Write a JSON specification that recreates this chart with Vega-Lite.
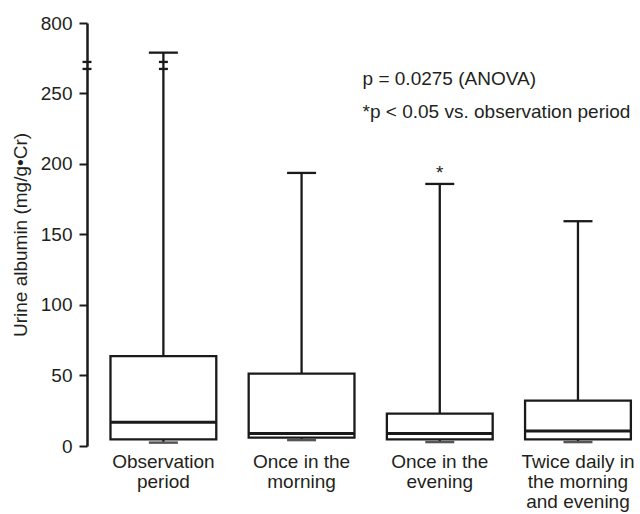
{
  "$schema": "https://vega.github.io/schema/vega-lite/v6.json",
  "autosize": "none",
  "width": 553,
  "height": 423,
  "padding": {"left": 87, "top": 23, "right": 0, "bottom": 68},
  "background": "white",
  "config": {
    "view": {"stroke": null},
    "font": "Liberation Sans",
    "text": {"font": "Liberation Sans"}
  },
  "datasets": {
    "boxes": [
      {"group": "Observation period", "min": 2.4, "q1": 4.7, "median": 16.8, "q3": 63.7, "max": 567, "sig": ""},
      {"group": "Once in the morning", "min": 4.2, "q1": 5.9, "median": 8.8, "q3": 51.2, "max": 193.4, "sig": ""},
      {"group": "Once in the evening", "min": 2.8, "q1": 4.7, "median": 8.8, "q3": 22.9, "max": 185.6, "sig": "*"},
      {"group": "Twice daily in the morning and evening", "min": 2.8, "q1": 4.7, "median": 10.6, "q3": 32.1, "max": 159.2, "sig": ""}
    ],
    "breaks": [
      {"group": "Observation period", "brk": 494},
      {"group": "Observation period", "brk": 439}
    ],
    "notes": [
      {"group": "Once in the morning", "pos": 315, "label": "p = 0.0275 (ANOVA)"},
      {"group": "Once in the morning", "pos": 232.3, "label": "*p < 0.05 vs. observation period"}
    ]
  },
  "layer": [
    {
      "data": {"name": "boxes"},
      "mark": {"type": "rule", "color": "#1a1a1a", "strokeWidth": 2.3},
      "encoding": {
        "x": {
          "field": "group", "type": "nominal", "sort": null,
          "scale": {"type": "band", "paddingInner": 0.2344, "paddingOuter": 0.118, "align": 0.72},
          "axis": {
            "title": null, "domain": false, "ticks": false, "labelAngle": 0,
            "labelFontSize": 19, "labelLineHeight": 20, "labelPadding": 6,
            "labelColor": "#231f20", "labelFont": "Liberation Sans",
            "labelBaseline": "top",
            "labelExpr": "datum.value == 'Observation period' ? ['Observation', 'period'] : datum.value == 'Once in the morning' ? ['Once in the', 'morning'] : datum.value == 'Once in the evening' ? ['Once in the', 'evening'] : ['Twice daily in', 'the morning', 'and evening']"
          }
        },
        "y": {
          "field": "min", "type": "quantitative",
          "scale": {"domain": [0, 250, 800], "range": [423, 70, 0], "nice": false, "zero": false, "clamp": false},
          "axis": {
            "title": "Urine albumin (mg/g•Cr)", "titleFontSize": 19, "titleFontWeight": "normal",
            "titleColor": "#231f20", "titleFont": "Liberation Sans", "titlePadding": 10,
            "values": [0, 50, 100, 150, 200, 250, 800], "grid": false,
            "domainColor": "#1a1a1a", "domainWidth": 2.5,
            "tickColor": "#1a1a1a", "tickWidth": 2, "tickSize": 8,
            "labelFontSize": 19, "labelColor": "#231f20", "labelPadding": 7, "labelFont": "Liberation Sans"
          }
        },
        "y2": {"field": "max"}
      }
    },
    {
      "data": {"name": "boxes"},
      "mark": {"type": "bar", "fill": "white", "stroke": "#1a1a1a", "strokeWidth": 2.3},
      "encoding": {
        "x": {"field": "group", "type": "nominal", "sort": null},
        "y": {"field": "q1", "type": "quantitative"},
        "y2": {"field": "q3"}
      }
    },
    {
      "data": {"name": "boxes"},
      "mark": {"type": "tick", "color": "#1a1a1a", "size": 106, "thickness": 3, "opacity": 1},
      "encoding": {
        "x": {"field": "group", "type": "nominal", "sort": null},
        "y": {"field": "median", "type": "quantitative"}
      }
    },
    {
      "data": {"name": "boxes"},
      "mark": {"type": "tick", "color": "#1a1a1a", "size": 29, "thickness": 2.3, "opacity": 1},
      "encoding": {
        "x": {"field": "group", "type": "nominal", "sort": null},
        "y": {"field": "max", "type": "quantitative"}
      }
    },
    {
      "data": {"name": "boxes"},
      "mark": {"type": "tick", "color": "#555555", "size": 29, "thickness": 2.5, "opacity": 1},
      "encoding": {
        "x": {"field": "group", "type": "nominal", "sort": null},
        "y": {"field": "min", "type": "quantitative"}
      }
    },
    {
      "data": {"name": "boxes"},
      "mark": {"type": "text", "fontSize": 19, "color": "#231f20", "baseline": "alphabetic", "dy": -5},
      "encoding": {
        "x": {"field": "group", "type": "nominal", "sort": null},
        "y": {"field": "max", "type": "quantitative"},
        "text": {"field": "sig"}
      }
    },
    {
      "data": {"name": "breaks"},
      "mark": {"type": "tick", "color": "#1a1a1a", "size": 9, "thickness": 2.3, "opacity": 1},
      "encoding": {
        "x": {"field": "group", "type": "nominal", "sort": null},
        "y": {"field": "brk", "type": "quantitative"}
      }
    },
    {
      "data": {"name": "breaks"},
      "mark": {"type": "tick", "color": "#1a1a1a", "size": 9, "thickness": 2.3, "opacity": 1},
      "encoding": {
        "x": {"value": 0},
        "y": {"field": "brk", "type": "quantitative"}
      }
    },
    {
      "data": {"name": "notes"},
      "mark": {"type": "text", "fontSize": 19, "color": "#231f20", "align": "left", "baseline": "alphabetic", "dx": 61},
      "encoding": {
        "x": {"field": "group", "type": "nominal", "sort": null},
        "y": {"field": "pos", "type": "quantitative"},
        "text": {"field": "label"}
      }
    }
  ]
}
